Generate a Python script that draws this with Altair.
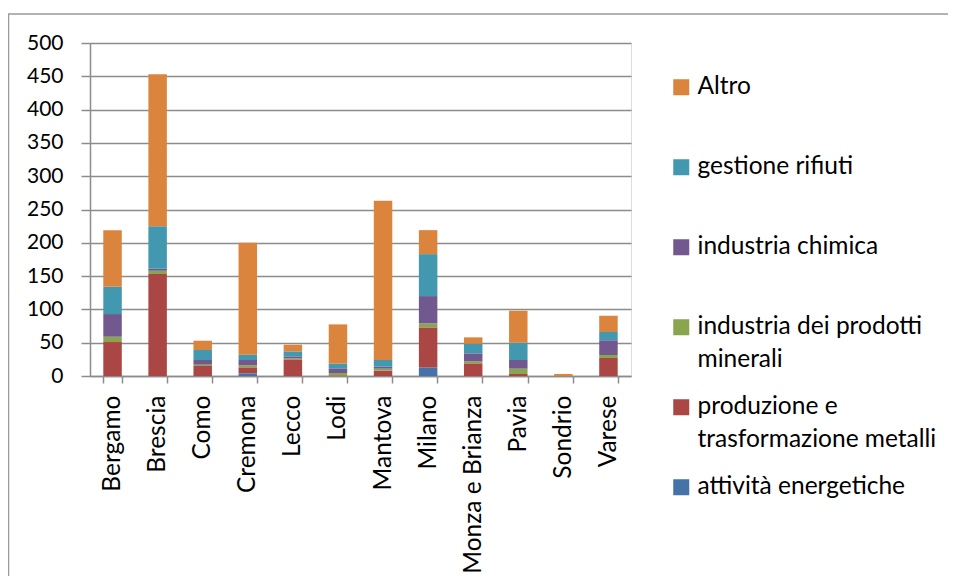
import json
import altair as alt
import pandas as pd

province = ["Bergamo", "Brescia", "Como", "Cremona", "Lecco", "Lodi", "Mantova",
            "Milano", "Monza e Brianza", "Pavia", "Sondrio", "Varese"]

attivita_energetiche = [0, 0, 0, 4, 0, 0, 0, 13, 0, 0, 0, 0]
produzione_metalli = [51, 153, 15, 9, 25, 1, 8, 60, 19, 3, 0, 27]
prodotti_minerali = [8, 5, 2, 3, 1.5, 3.5, 3, 6, 3, 8, 0, 4.5]
industria_chimica = [34, 3, 7, 8, 3, 7, 3, 41, 12, 13, 0, 22]
gestione_rifiuti = [41, 64, 15, 8, 7.5, 7, 10, 63, 14.5, 26, 0, 12.5]
altro = [85, 228, 14, 168, 10, 59, 239, 36, 9.5, 48, 3, 24.5]

# bottom -> top stacking order
series_names = ["attività energetiche", "produzione e trasformazione metalli",
                "industria dei prodotti minerali", "industria chimica",
                "gestione rifiuti", "Altro"]
series_values = [attivita_energetiche, produzione_metalli, prodotti_minerali,
                 industria_chimica, gestione_rifiuti, altro]
series_colors = ["#4572A7", "#AA4643", "#89A54E", "#71588F", "#4198AF", "#DB843D"]

legend_lines = {
    "industria dei prodotti minerali": ["industria dei prodotti", "minerali"],
    "produzione e trasformazione metalli": ["produzione e", "trasformazione metalli"],
}

rows = []
for i, (name, vals) in enumerate(zip(series_names, series_values)):
    for p, v in zip(province, vals):
        rows.append({"provincia": p, "settore": name, "valore": v, "ord": i})
df = pd.DataFrame(rows)

# every legend label gets two lines so that all entries have the same height
label_expr = "[datum.label, '']"
for name, lines in legend_lines.items():
    arr = json.dumps(lines, ensure_ascii=False)
    label_expr = f"datum.label == {json.dumps(name, ensure_ascii=False)} ? {arr} : " + label_expr

legend_domain = series_names[::-1]
legend_range = series_colors[::-1]

GRID = "#8c8c8c"

bars = alt.Chart(df).mark_bar().encode(
    x=alt.X("provincia:N", sort=province,
            scale=alt.Scale(paddingInner=0.59, paddingOuter=0.295),
            axis=alt.Axis(title=None, labelAngle=-90, labelFont="Lato", labelFontSize=24.5,
                          labelColor="black", tickBand="extent", tickSize=7,
                          tickColor=GRID, tickWidth=1.5, domainColor=GRID, domainWidth=1.5,
                          labelPadding=12, grid=False)),
    y=alt.Y("valore:Q", stack="zero",
            scale=alt.Scale(domain=[0, 500], nice=False),
            axis=alt.Axis(title=None, values=list(range(0, 501, 50)), labelFont="Lato",
                          labelFontSize=21, labelColor="black", tickSize=9, labelPadding=18,
                          tickColor=GRID, tickWidth=1.5, gridColor=GRID, gridWidth=1.5,
                          domainColor=GRID, domainWidth=1.5)),
    color=alt.Color("settore:N",
                    scale=alt.Scale(domain=legend_domain, range=legend_range),
                    legend=alt.Legend(title=None, orient="none", legendX=579, legendY=32,
                                      symbolType="square", symbolSize=256,
                                      symbolStrokeWidth=0, labelFont="Lato",
                                      labelFontSize=24.5, labelColor="black", labelLimit=400,
                                      labelOffset=4, labelBaseline="middle", rowPadding=22,
                                      padding=0, labelExpr=label_expr)),
    order=alt.Order("ord:Q"),
)

frame = alt.Chart(alt.Data(values=[{"f": 1}])).mark_rect(
    fill="white", fillOpacity=0, stroke="#9a9a9a", strokeWidth=1.5, clip=False
).encode(x=alt.value(-81.5), x2=alt.value(900), y=alt.value(-29), y2=alt.value(560))

chart = alt.layer(bars, frame).properties(
    width=541, height=333,
    padding={"left": 82, "top": 35, "right": 317, "bottom": 200},
    autosize=alt.AutoSizeParams(type="none"),
).configure_view(strokeWidth=0).configure(style={"guide-label": {"lineHeight": 33}})

chart.save("out.html", embed_options={"renderer": "svg", "actions": False})
